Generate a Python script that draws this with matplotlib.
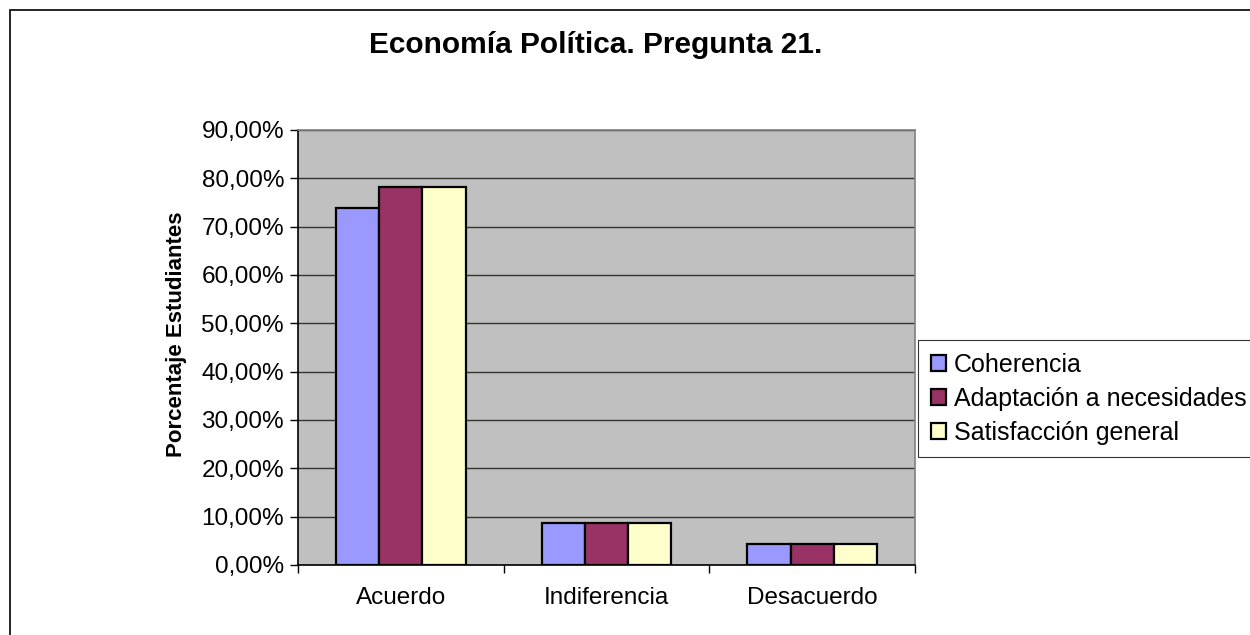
import matplotlib
matplotlib.use("Agg")
import matplotlib.pyplot as plt
from matplotlib.patches import Rectangle
from matplotlib.ticker import FuncFormatter, FixedLocator
import numpy as np

categories = ["Acuerdo", "Indiferencia", "Desacuerdo"]
series_names = ["Coherencia", "Adaptación a necesidades", "Satisfacción general"]
coherencia = [73.91, 8.70, 4.35]
adaptacion = [78.26, 8.70, 4.35]
satisfaccion = [78.26, 8.70, 4.35]
colors = ["#9999FF", "#993366", "#FFFFCC"]
yticks = [0, 10, 20, 30, 40, 50, 60, 70, 80, 90]

plt.rcParams['font.family'] = ['Liberation Sans', 'DejaVu Sans']

fig = plt.figure(figsize=(12.5, 6.35), dpi=100)
W, H = 1250, 635
# outer frame
fig.patches.append(Rectangle((10 / W, -0.1), 2, 1 - 10 / H + 0.1, transform=fig.transFigure,
                             fill=False, edgecolor='black', linewidth=1.2))

ax = fig.add_axes([298 / W, 1 - 565 / H, (915 - 298) / W, (565 - 130) / H])
ax.set_facecolor("#C0C0C0")

x = np.arange(len(categories))
bw = 0.21
for i, (vals, name) in enumerate(zip([coherencia, adaptacion, satisfaccion], series_names)):
    ax.bar(x + (i - 1) * bw, vals, width=bw, color=colors[i], edgecolor='black',
           linewidth=1.6, label=name, zorder=3)

ax.set_xlim(-0.5, 2.5)
ax.set_ylim(0, 90)
ax.yaxis.set_major_locator(FixedLocator(yticks))
ax.yaxis.set_major_formatter(FuncFormatter(lambda v, p: f"{v:.2f}%".replace('.', ',')))
ax.grid(axis='y', color='#333333', linewidth=1.0, zorder=1)
ax.set_axisbelow(True)

ax.set_xticks(x)
ax.set_xticklabels(categories, fontsize=17.5)
ax.tick_params(axis='x', length=0, pad=16)
ax.set_xticks([-0.5, 0.5, 1.5, 2.5], minor=True)
ax.tick_params(axis='x', which='minor', length=6, width=1, color='black', direction='out')
ax.tick_params(axis='y', labelsize=17.5, length=6, width=1, direction='out', pad=4)

for s in ['top', 'right']:
    ax.spines[s].set_color('#808080')
    ax.spines[s].set_linewidth(1.2)
for s in ['left', 'bottom']:
    ax.spines[s].set_color('black')
    ax.spines[s].set_linewidth(1.2)

ax.set_ylabel("Porcentaje Estudiantes", fontsize=16, fontweight='bold')
ax.yaxis.set_label_coords(-0.18, 0.53)

fig.text(596 / W, 1 - 45 / H, "Economía Política. Pregunta 21.", ha='center', va='center',
         fontsize=21.5, fontweight='bold')

leg = ax.legend(loc='upper left', bbox_to_anchor=(918 / W, 1 - 340 / H), bbox_transform=fig.transFigure,
                fontsize=18, frameon=True, fancybox=False, edgecolor='black', borderpad=0.5,
                handlelength=0.62, handleheight=0.62, handletextpad=0.3, labelspacing=0.4,
                borderaxespad=0)
leg.get_frame().set_linewidth(0.8)

fig.savefig("out.png", dpi=100)
